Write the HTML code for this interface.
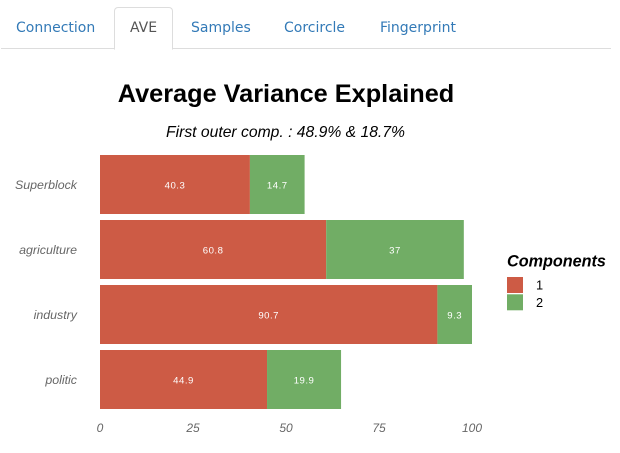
<!DOCTYPE html>
<html>
<head>
<meta charset="utf-8">
<style>
html,body{margin:0;padding:0;background:#fff;width:620px;height:453px;overflow:hidden}
body{position:relative;font-family:"DejaVu Sans",sans-serif}
#tab-line{position:absolute;left:1px;top:48px;width:610px;height:1px;background:#ddd}
.tab{position:absolute;top:20px;font-size:14px;line-height:17px;color:#337ab7;white-space:nowrap;text-decoration:none}
#tab-active{position:absolute;left:114px;top:7px;width:57px;height:41px;border:1px solid #ddd;border-bottom:1px solid #fff;border-radius:4px 4px 0 0;background:#fff}
svg{position:absolute;left:0;top:0}
</style>
</head>
<body>
<div id="tab-line"></div>
<div id="tab-active"></div>
<a class="tab" style="left:16px">Connection</a>
<a class="tab" style="left:130px;color:#555">AVE</a>
<a class="tab" style="left:191px">Samples</a>
<a class="tab" style="left:284px">Corcircle</a>
<a class="tab" style="left:380px">Fingerprint</a>
<svg id="chart" width="620" height="453" xmlns="http://www.w3.org/2000/svg" font-family="'Liberation Sans',sans-serif"></svg>
<script>
const categories = ["Superblock", "agriculture", "industry", "politic"];
const component1 = [40.3, 60.8, 90.7, 44.9];
const component2 = [14.7, 37, 9.3, 19.9];
const xTicks = [0, 25, 50, 75, 100];
const seriesNames = ["1", "2"];
const titleText = "Average Variance Explained";
const subtitleText = "First outer comp. : 48.9% & 18.7%";
const legendTitle = "Components";

const NS = "http://www.w3.org/2000/svg";
const svg = document.getElementById("chart");
const colors = ["#cd5b45", "#71ad65"];
const xScale = v => 100 + v * 3.72;
const yBand = i => 155 + i * 65;
const bandH = 59;

function mk(tag, attrs, txt) {
  const el = document.createElementNS(NS, tag);
  for (const k in attrs) el.setAttribute(k, attrs[k]);
  if (txt !== undefined) el.textContent = txt;
  svg.appendChild(el);
  return el;
}

let el;
el = mk("text", {x: 286, y: 102, "text-anchor": "middle", "font-size": 25.3, "font-weight": "bold", fill: "#000"}, titleText);


el = mk("text", {x: 285.5, y: 137, "text-anchor": "middle", "font-size": 15.7, "font-style": "italic", fill: "#000"}, subtitleText);



categories.forEach((c, i) => {
  const y = yBand(i);
  const a = component1[i], b = component2[i];
  el = mk("rect", {x: xScale(0), y: y, width: xScale(a) - xScale(0), height: bandH, fill: colors[0]});
  
  
  el = mk("rect", {x: xScale(a), y: y, width: xScale(a + b) - xScale(a), height: bandH, fill: colors[1]});
  
  
  el = mk("text", {x: xScale(a / 2), y: y + 33.5, "text-anchor": "middle", "font-size": 9.6, "letter-spacing": 0.5, fill: "#fff"}, String(a));
  
  
  el = mk("text", {x: xScale(a + b / 2), y: y + 33.5, "text-anchor": "middle", "font-size": 9.6, "letter-spacing": 0.5, fill: "#fff"}, String(b));
  
  
  el = mk("text", {x: 77, y: y + 34, "text-anchor": "end", "font-size": 12.4, "font-style": "italic", fill: "#666"}, c);
  
  
});

xTicks.forEach(t => {
  el = mk("text", {x: xScale(t), y: 432, "text-anchor": "middle", "font-size": 12, "font-style": "italic", fill: "#666"}, String(t));
  
  
});

el = mk("text", {x: 507, y: 266.5, "font-size": 16.2, "font-weight": "bold", "font-style": "italic", fill: "#000"}, legendTitle);


seriesNames.forEach((s, i) => {
  const y = 277 + i * 17.3;
  el = mk("rect", {x: 507, y: y, width: 16, height: 16, fill: colors[i]});
  
  
  el = mk("text", {x: 536, y: y + 12.5, "font-size": 12.8, fill: "#000"}, s);
  
  
});
</script>
</body>
</html>
